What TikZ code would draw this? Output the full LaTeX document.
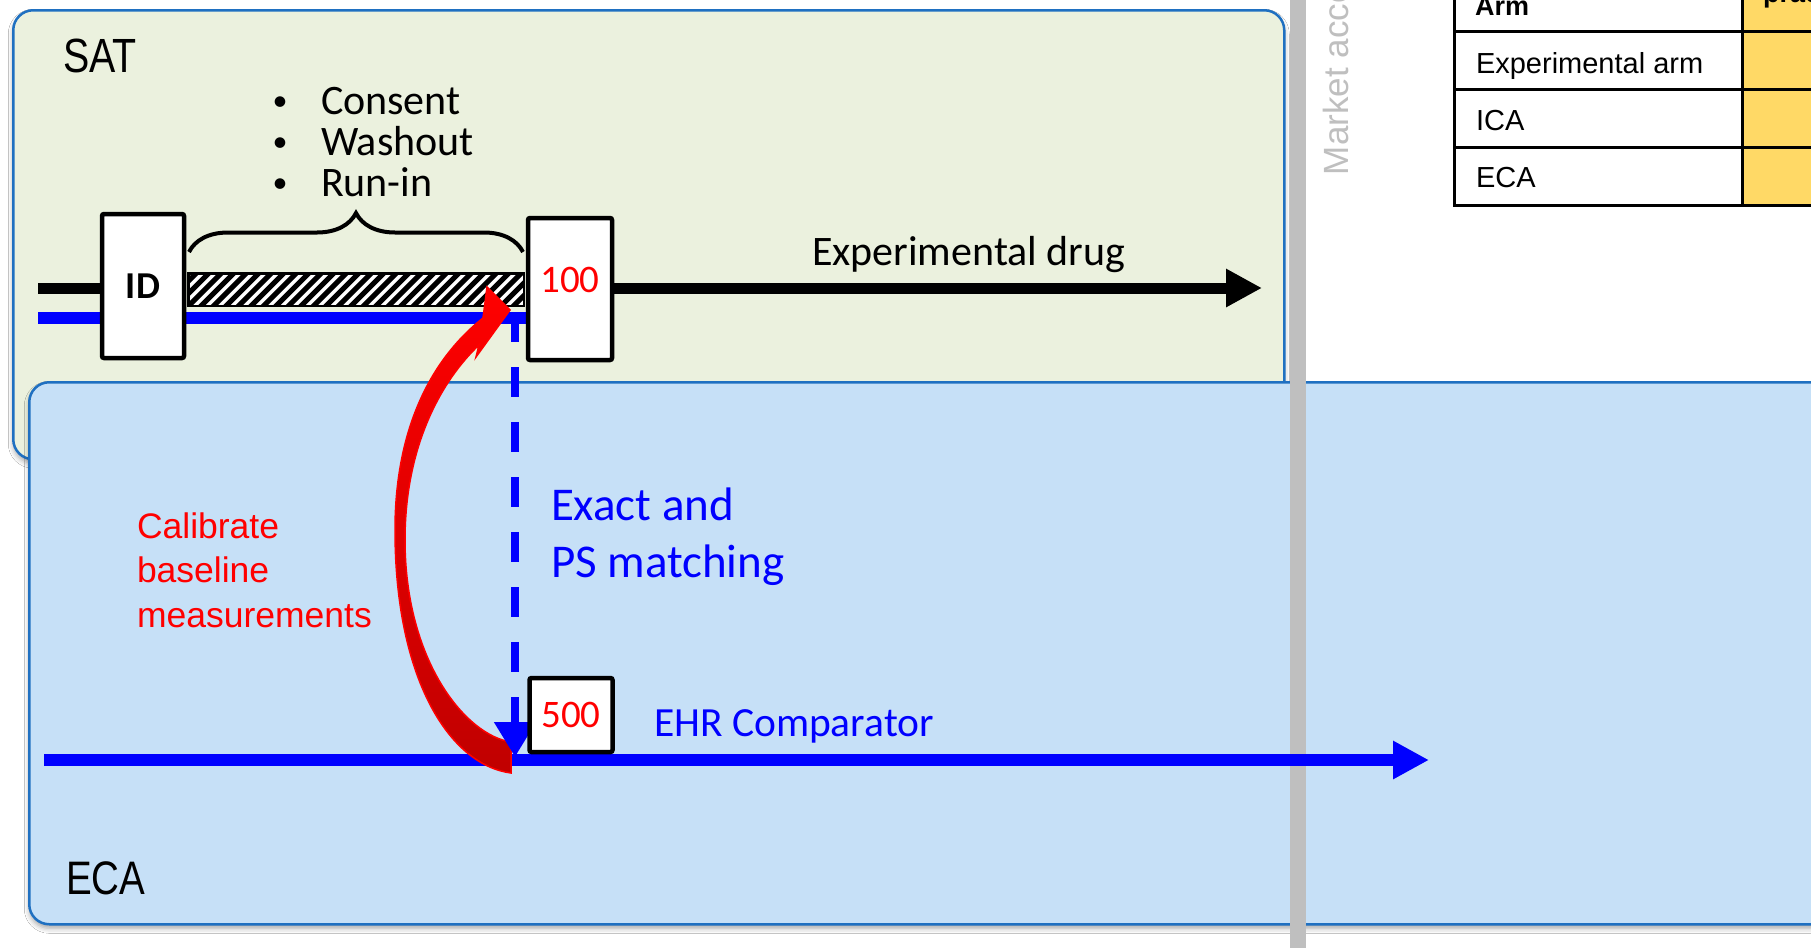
\documentclass[tikz,border=0pt]{standalone}
\usepackage{fontspec}
\setmainfont{Carlito}
\newfontfamily\arialfont{Liberation Sans}
\newfontfamily\narrowfont[FakeStretch=0.82]{Liberation Sans}
\usetikzlibrary{arrows.meta,decorations.pathreplacing,shadows.blur}

\definecolor{satfill}{HTML}{EBF1DE}
\definecolor{ecafill}{HTML}{C6E0F7}
\definecolor{frameblue}{HTML}{1F70C1}
\definecolor{barGray}{HTML}{BFBFBF}
\definecolor{cellyellow}{HTML}{FFD966}
\definecolor{darkred}{HTML}{C00000}

\newcommand{\pxs}[1]{\fontsize{#1pt}{#1pt}\selectfont}

\begin{document}
\begin{tikzpicture}[x=1pt,y=-1pt,
  panel/.style={draw=frameblue, line width=2.5pt, rounded corners=20pt, inner sep=0pt, anchor=north west,
    blur shadow={shadow xshift=0pt, shadow yshift=-4pt, shadow blur radius=5pt, shadow opacity=35}},
  markbox/.style={draw=black, line width=4.5pt, fill=white, inner sep=0pt, rounded corners=2pt},
  blueline/.style={draw=blue, line width=12pt},
  txt/.style={anchor=base west, inner sep=0pt, outer sep=0pt},
  bigtip/.style={-{Triangle[length=36pt,width=36pt]}},
]
\useasboundingbox (0,0) rectangle (1811,948);
\clip (0,0) rectangle (1811,948);
\fill[white] (0,0) rectangle (1811,948);

% ---------------- single-arm trial panel ----------------
\node[panel, fill=satfill, minimum width=1271pt, minimum height=449pt] (sat) at (12,9) {};
\node[txt, font=\narrowfont\pxs{48}] (satname) at (63,72) {SAT};

\foreach \i/\t/\yy in {1/Consent/114, 2/Washout/155, 3/Run-in/196} {
  \node[anchor=base, inner sep=0pt, font=\pxs{30}] (dot\i) at (280,\yy-4) {•};
  \node[txt, font=\pxs{42}] (item\i) at (321,\yy) {\t};
}

% timelines
\coordinate (blackStart) at (38,288);
\coordinate (satBlueStart) at (38,318);
\coordinate (satBlueEnd) at (530,318);
\draw[blueline] (satBlueStart) -- (satBlueEnd);
\draw[line width=11pt] (blackStart) -- (104,288);

% run-in period bar
\node[draw, line width=1.5pt, fill=white, minimum width=335pt, minimum height=32pt, inner sep=0pt, anchor=north west] (runin) at (188,273) {};
\begin{scope}
  \clip (runin.south west) rectangle (runin.north east);
  \foreach \x in {150,162.5,...,540} \draw[line width=5pt] (\x,307) -- ++(36,-36);
\end{scope}
\draw[line width=1.5pt] (runin.south west) rectangle (runin.north east);

% brace over the run-in period
\coordinate (braceL) at (189,252);
\coordinate (braceR) at (523,252);
\draw[line width=4pt, decorate, decoration={brace, amplitude=39pt}] (braceL) -- (braceR);

% ID and enrolment boxes
\node[markbox, minimum width=82pt, minimum height=144pt, font=\bfseries\pxs{38}] (id) at (143,286) {ID};
\node[markbox, minimum width=84pt, minimum height=142pt] (b100) at (570,289) {};
\node[anchor=base, inner sep=0pt, text=red, font=\pxs{39}] (n100) at (570,292) {100};

% experimental drug arrow
\coordinate (drugEnd) at (1262,288);
\draw[line width=11pt, bigtip] (b100.east |- blackStart) -- (drugEnd);
\node[txt, font=\pxs{42}] (drug) at (812,265) {Experimental drug};

% ---------------- external control arm panel ----------------
\node[panel, fill=ecafill, minimum width=1900pt, minimum height=542pt] (eca) at (28,381) {};

% divider bar
\fill[barGray] (1290,0) rectangle (1306,948);

% EHR comparator timeline
\coordinate (ecaStart) at (44,760);
\coordinate (ecaEnd) at (1429,760);
\draw[blueline, bigtip] (ecaStart) -- (ecaEnd);

% curved calibration arrow
\path[draw=red, line width=1.5pt, top color=red, middle color=red, bottom color=darkred]
  (483,318) .. controls (430,360) and (395,430) .. (395,530)
  .. controls (395,680) and (450,765) .. (511,773)
  -- (511,742)
  .. controls (465,735) and (405,660) .. (405,540)
  .. controls (405,445) and (442,380) .. (479,345)
  -- (476,357) -- (510,310) -- (487,287) -- cycle;

% matching line
\coordinate (matchTop) at (515,312);
\coordinate (matchEnd) at (515,757);
\draw[blue, line width=8pt, dash pattern=on 30pt off 25pt, -{Triangle[length=35pt,width=40pt]}] (matchTop) -- (matchEnd);

\node[markbox, minimum width=83pt, minimum height=74pt, text=red, font=\pxs{39}] (b500) at (571,715) {500};

\node[txt, text=blue, font=\pxs{47}] (exact1) at (551,520) {Exact and};
\node[txt, text=blue, font=\pxs{47}] (exact2) at (551,577) {PS matching};
\node[txt, text=blue, font=\pxs{41.5}] (ehr) at (654,736) {EHR Comparator};

\node[txt, text=red, font=\arialfont\pxs{35.5}] (cal1) at (137,538) {Calibrate};
\node[txt, text=red, font=\arialfont\pxs{35.5}] (cal2) at (137,582) {baseline};
\node[txt, text=red, font=\arialfont\pxs{35.5}] (cal3) at (137,627) {measurements};

\node[txt, font=\narrowfont\pxs{47}] (ecaname) at (66,894) {ECA};

% ---------------- right-hand side ----------------
\node[txt, rotate=90, text=barGray, font=\arialfont\pxs{35}] (market) at (1348,175) {Market access};

\fill[cellyellow] (1742,-40) rectangle (1900,205);
\draw[line width=3pt] (1454,-40) rectangle (1900,205)
  (1454,31) -- (1900,31) (1454,89) -- (1900,89) (1454,147) -- (1900,147)
  (1742,-40) -- (1742,205);
\node[txt, font=\arialfont\bfseries\pxs{27}] (hdrArm) at (1475,15) {Arm};
\node[txt, font=\arialfont\bfseries\pxs{27}] (hdrPrac) at (1763,2) {practice};
\node[txt, font=\arialfont\pxs{29}] (rowExp) at (1476,73) {Experimental arm};
\node[txt, font=\arialfont\pxs{29}] (rowIca) at (1476,130) {ICA};
\node[txt, font=\arialfont\pxs{29}] (rowEca) at (1476,187) {ECA};
\end{tikzpicture}
\end{document}
